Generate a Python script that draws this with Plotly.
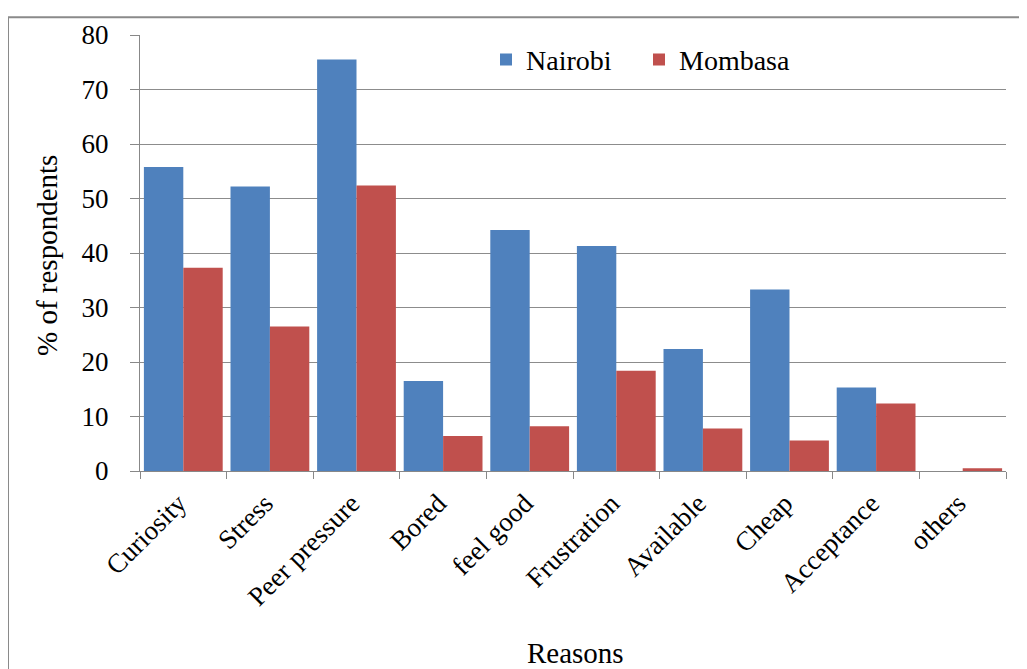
import plotly.graph_objects as go

categories = ["Curiosity", "Stress", "Peer pressure", "Bored", "feel good",
              "Frustration", "Available", "Cheap", "Acceptance", "others"]
nairobi = [55.8, 52.2, 75.5, 16.5, 44.2, 41.3, 22.4, 33.3, 15.3, 0]
mombasa = [37.3, 26.5, 52.4, 6.4, 8.2, 18.4, 7.8, 5.6, 12.4, 0.5]
y_ticks = [0, 10, 20, 30, 40, 50, 60, 70, 80]

FONT = "Liberation Serif"

fig = go.Figure()
fig.add_trace(go.Bar(name="Nairobi", x=categories, y=nairobi,
                     marker=dict(color="#4F81BD", line=dict(width=0))))
fig.add_trace(go.Bar(name="Mombasa", x=categories, y=mombasa,
                     marker=dict(color="#C0504D", line=dict(width=0))))

# page body has an 8px margin, so the figure is offset by 8px on screen
OFF = 8
W, H = 1027 - OFF, 669 - OFF
# target plot area in screen pixels
L, R, T, B = 140, 1006, 31, 471
ml, mt = L - OFF, T - OFF
mr = W - (R - OFF)
mb = H - (B - OFF)
pw, ph = R - L, B - T

def px(x):
    return (x - L) / pw

def py(y):
    return 1 - (y - T) / ph

fig.update_layout(
    width=W, height=H,
    margin=dict(l=ml, r=mr, t=mt, b=mb),
    paper_bgcolor="white", plot_bgcolor="white",
    barmode="group", bargap=0.09, bargroupgap=0,
    font=dict(family=FONT, size=27, color="black"),
    showlegend=True,
    legend=dict(orientation="h", x=px(486), y=py(56), xanchor="left", yanchor="middle",
                font=dict(size=28, family=FONT), bgcolor="rgba(0,0,0,0)",
                itemwidth=30, entrywidth=108, traceorder="normal"),
    xaxis=dict(
        tickangle=-45, tickson="boundaries", ticks="outside", ticklen=7,
        tickcolor="#888888", showline=True, linecolor="#888888", linewidth=1,
        tickfont=dict(size=27, family=FONT), ticksuffix="\u00a0",
        showgrid=False,
    ),
    yaxis=dict(
        range=[0, 80], tickvals=y_ticks, ticks="outside", ticklen=9,
        tickcolor="#888888", showline=True, linecolor="#888888", linewidth=1,
        showgrid=True, gridcolor="#8c8c8c", gridwidth=1, zeroline=False,
        tickfont=dict(size=27, family=FONT), ticklabelstandoff=16,
    ),
    annotations=[
        dict(text="Reasons", xref="paper", yref="paper", x=px(575), y=py(655),
             xanchor="center", yanchor="middle", showarrow=False,
             font=dict(size=29, family=FONT)),
        dict(text="% of respondents", xref="paper", yref="paper", x=px(47), y=py(254),
             xanchor="center", yanchor="middle", showarrow=False, textangle=-90,
             font=dict(size=29, family=FONT)),
    ],
    shapes=[dict(type="rect", xref="paper", yref="paper",
                 x0=px(8), x1=px(1020), y0=py(720), y1=py(13),
                 line=dict(color="#8a8a8a", width=2), fillcolor="rgba(0,0,0,0)",
                 layer="below")],
)

fig.write_html("out.html")
